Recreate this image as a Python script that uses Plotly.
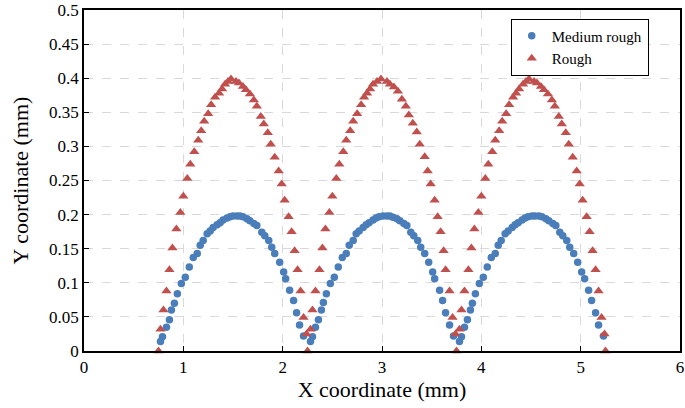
import plotly.graph_objects as go

# ---- data ----
med_x1 = [0.77, 0.79, 0.83, 0.86, 0.88, 0.91, 0.94, 0.98, 1.02, 1.06, 1.10, 1.14, 1.17, 1.20, 1.24,
          1.27, 1.30, 1.34, 1.37, 1.40, 1.44, 1.47, 1.50, 1.54, 1.57, 1.60, 1.64, 1.67, 1.71, 1.74,
          1.79, 1.82, 1.86, 1.89, 1.92, 1.97, 2.01, 2.03, 2.07, 2.11, 2.14, 2.17, 2.21]
med_y1 = [0.014, 0.021, 0.035, 0.046, 0.060, 0.070, 0.084, 0.099, 0.108, 0.123, 0.137, 0.143, 0.155,
          0.162, 0.172, 0.176, 0.181, 0.185, 0.188, 0.192, 0.195, 0.197, 0.198, 0.198, 0.198, 0.197,
          0.194, 0.191, 0.187, 0.184, 0.174, 0.169, 0.162, 0.152, 0.143, 0.130, 0.116, 0.106, 0.089,
          0.074, 0.056, 0.038, 0.022]
med_x2 = [2.28, 2.30, 2.33, 2.36, 2.39, 2.41, 2.44, 2.48, 2.52, 2.56, 2.60, 2.64, 2.67, 2.71, 2.74,
          2.77, 2.81, 2.84, 2.87, 2.91, 2.94, 2.97, 3.01, 3.05, 3.08, 3.11, 3.15, 3.18, 3.22, 3.25,
          3.29, 3.32, 3.36, 3.39, 3.43, 3.47, 3.51, 3.53, 3.58, 3.61, 3.64, 3.68, 3.72]
med_y2 = [0.014, 0.021, 0.035, 0.046, 0.060, 0.071, 0.084, 0.099, 0.108, 0.123, 0.137, 0.143, 0.155,
          0.162, 0.172, 0.176, 0.181, 0.185, 0.188, 0.192, 0.195, 0.197, 0.198, 0.198, 0.198, 0.196,
          0.194, 0.191, 0.187, 0.184, 0.174, 0.169, 0.162, 0.152, 0.143, 0.130, 0.116, 0.106, 0.089,
          0.074, 0.056, 0.038, 0.022]
med_x3 = [3.78, 3.80, 3.83, 3.86, 3.89, 3.91, 3.94, 3.98, 4.02, 4.06, 4.10, 4.14, 4.17, 4.20, 4.24,
          4.27, 4.31, 4.34, 4.37, 4.41, 4.44, 4.47, 4.51, 4.54, 4.58, 4.61, 4.65, 4.68, 4.72, 4.75,
          4.79, 4.82, 4.86, 4.89, 4.93, 4.97, 5.01, 5.04, 5.08, 5.11, 5.15, 5.18, 5.23]
med_y3 = [0.014, 0.021, 0.035, 0.046, 0.060, 0.070, 0.084, 0.099, 0.108, 0.123, 0.137, 0.143, 0.155,
          0.162, 0.172, 0.176, 0.181, 0.185, 0.188, 0.192, 0.195, 0.197, 0.198, 0.198, 0.198, 0.197,
          0.194, 0.191, 0.187, 0.184, 0.174, 0.169, 0.162, 0.152, 0.143, 0.130, 0.116, 0.106, 0.089,
          0.074, 0.056, 0.038, 0.022]

rough_x1 = [0.75, 0.77, 0.80, 0.83, 0.86, 0.89, 0.93, 0.97, 1.00, 1.04, 1.07, 1.11, 1.15, 1.18, 1.21,
            1.25, 1.28, 1.32, 1.36, 1.39, 1.42, 1.45, 1.48, 1.53, 1.56, 1.60, 1.63, 1.67, 1.71, 1.74,
            1.78, 1.81, 1.85, 1.88, 1.92, 1.96, 1.99, 2.02, 2.06, 2.09, 2.12, 2.15, 2.18, 2.21, 2.24, 2.25]
rough_y1 = [0, 0.032, 0.060, 0.088, 0.119, 0.151, 0.179, 0.203, 0.227, 0.253, 0.274, 0.292, 0.309,
            0.323, 0.337, 0.348, 0.361, 0.372, 0.378, 0.384, 0.391, 0.395, 0.399, 0.395, 0.393, 0.388,
            0.383, 0.377, 0.368, 0.359, 0.344, 0.333, 0.320, 0.303, 0.284, 0.264, 0.245, 0.221, 0.197,
            0.175, 0.147, 0.119, 0.088, 0.049, 0.025, 0]
rough_x2 = [2.28, 2.30, 2.33, 2.37, 2.40, 2.43, 2.47, 2.50, 2.54, 2.57, 2.61, 2.64, 2.68, 2.71,
            2.75, 2.79, 2.82, 2.85, 2.88, 2.91, 2.95, 2.99, 3.05, 3.08, 3.12, 3.16, 3.20, 3.24, 3.27,
            3.31, 3.35, 3.38, 3.43, 3.46, 3.49, 3.53, 3.56, 3.59, 3.62, 3.64, 3.68, 3.71, 3.74, 3.75]
rough_y2 = [0.032, 0.060, 0.088, 0.119, 0.151, 0.179, 0.203, 0.227, 0.253, 0.274, 0.292, 0.309,
            0.323, 0.337, 0.348, 0.361, 0.372, 0.378, 0.384, 0.391, 0.395, 0.399, 0.395, 0.391, 0.387,
            0.381, 0.369, 0.359, 0.346, 0.334, 0.321, 0.303, 0.285, 0.264, 0.245, 0.221, 0.197, 0.175,
            0.147, 0.119, 0.088, 0.049, 0.025, 0]
rough_x3 = [3.78, 3.80, 3.83, 3.87, 3.90, 3.93, 3.97, 4.00, 4.04, 4.07, 4.11, 4.14, 4.18, 4.21,
            4.25, 4.28, 4.32, 4.35, 4.38, 4.42, 4.45, 4.48, 4.53, 4.56, 4.60, 4.63, 4.67, 4.71, 4.74,
            4.78, 4.81, 4.85, 4.88, 4.92, 4.96, 4.99, 5.02, 5.06, 5.09, 5.12, 5.15, 5.18, 5.21, 5.24, 5.25]
rough_y3 = [0.032, 0.060, 0.088, 0.119, 0.151, 0.179, 0.203, 0.227, 0.253, 0.274, 0.292, 0.309,
            0.323, 0.337, 0.348, 0.361, 0.372, 0.378, 0.384, 0.391, 0.395, 0.399, 0.395, 0.393, 0.388,
            0.383, 0.377, 0.368, 0.359, 0.344, 0.333, 0.320, 0.303, 0.284, 0.264, 0.245, 0.221, 0.197,
            0.175, 0.147, 0.119, 0.088, 0.049, 0.025, 0]

x_ticks = [0, 1, 2, 3, 4, 5, 6]
x_tick_labels = ["0", "1", "2", "3", "4", "5", "6"]
y_ticks = [0, 0.05, 0.1, 0.15, 0.2, 0.25, 0.3, 0.35, 0.4, 0.45, 0.5]
y_tick_labels = ["0", "0.05", "0.1", "0.15", "0.2", "0.25", "0.3", "0.35", "0.4", "0.45", "0.5"]

BLUE = "#4A7EBB"
RED = "#C0504D"
FONT = "Times New Roman, Liberation Serif, serif"

fig = go.Figure()
fig.add_trace(go.Scatter(
    x=med_x1 + med_x2 + med_x3, y=med_y1 + med_y2 + med_y3,
    mode="markers", name="Medium rough", cliponaxis=False,
    marker=dict(symbol="circle", size=7.5, color=BLUE)))
fig.add_trace(go.Scatter(
    x=rough_x1 + rough_x2 + rough_x3, y=rough_y1 + rough_y2 + rough_y3,
    mode="markers", name="Rough", cliponaxis=False,
    marker=dict(symbol="triangle-up", size=9, color=RED)))

tick_font = dict(family=FONT, size=17, color="black")
title_font = dict(family=FONT, size=22, color="black")

axis_common = dict(
    showline=True, linecolor="black", linewidth=1.5, mirror=True,
    ticks="inside", ticklen=5, tickcolor="black", tickwidth=1,
    showgrid=True, gridcolor="#D9D9D9", griddash="dash", gridwidth=1,
    zeroline=False, automargin=False, ticklabeloverflow="allow",
)

fig.update_xaxes(range=[0, 6], tickmode="array", tickvals=x_ticks, ticktext=x_tick_labels,
                 tickfont=tick_font,
                 title=dict(text="X coordinate (mm)", font=title_font, standoff=2),
                 **axis_common)
fig.update_yaxes(range=[0, 0.5], tickmode="array", tickvals=y_ticks, ticktext=y_tick_labels,
                 tickfont=tick_font,
                 title=dict(text="Y coordinate (mm)", font=title_font, standoff=14),
                 **axis_common)

fig.update_layout(
    width=685, height=408,
    margin=dict(l=84, r=5, t=10, b=57),
    paper_bgcolor="white", plot_bgcolor="white",
    font=dict(family=FONT, size=17, color="black"),
    legend=dict(x=0.716, y=0.975, xanchor="left", yanchor="top",
                bgcolor="white", bordercolor="black", borderwidth=1,
                font=dict(family=FONT, size=15, color="black"),
                itemwidth=30, tracegroupgap=0),
    showlegend=True,
)

fig.write_html("out.html", config={"displayModeBar": False},
               post_script="document.body.style.margin='0px';document.body.style.padding='0px';")
